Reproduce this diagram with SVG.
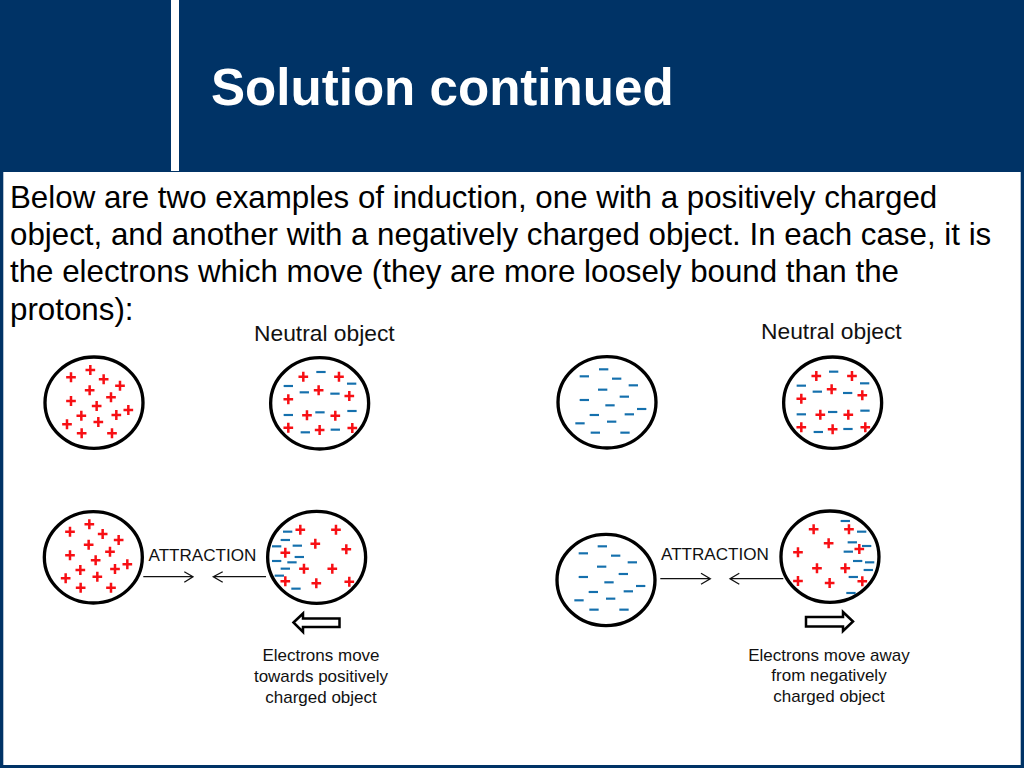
<svg xmlns="http://www.w3.org/2000/svg" width="1024" height="768" viewBox="0 0 1024 768">
<style>
text{font-family:"Liberation Sans",Arial,sans-serif;fill:#000}
.title{font-size:51.1px;font-weight:700;fill:#fff}
.body{font-size:31.3px}
.label{font-size:22.8px;fill:#111}
.att{font-size:17.1px;fill:#111}
.small{font-size:17px;text-anchor:middle;fill:#111}
.ball{fill:#fff;stroke:#000;stroke-width:10}
.thin{fill:none;stroke:#111;stroke-width:1.300}
.block{fill:#fff;stroke:#000;stroke-width:2.500}
</style>
<defs>
<path id="p" d="M-14.500 0H14.500M0-15V15" fill="none" stroke="#f70f14" stroke-width="7.500"/>
<path id="m" d="M-14 0H14" fill="none" stroke="#1570ad" stroke-width="6.500"/>
</defs>
<rect width="1024" height="768" fill="#003366"/>
<rect x="3.300" y="172" width="1017.400" height="593" fill="#fff"/>
<rect x="171" y="0" width="8" height="171" fill="#fff"/>
<text class="title" x="211" y="105">Solution continued</text>
<g id="body">
<text class="body" x="10" y="208">Below are two examples of induction, one with a positively charged</text>
<text class="body" x="10" y="245">object, and another with a negatively charged object. In each case, it is</text>
<text class="body" x="10" y="282">the electrons which move (they are more loosely bound than the</text>
<text class="body" x="10" y="320">protons):</text>
</g>
<text class="label" x="254" y="341">Neutral object</text>
<text class="label" x="761" y="339">Neutral object</text>

<g id="connectors">
<path class="thin" d="M143.300 576.700H193M184.300 571.700L193 576.700L184.300 582.300"/>
<path class="thin" d="M266 576.700H213.300M222.700 571.700L213.300 576.700L222.700 582.300"/>
<path class="thin" d="M660.300 578.700H710.300M701 573.300L710.300 578.700L701 584.300"/>
<path class="thin" d="M783.300 578.700H730M739.300 573.300L730 578.700L739.300 584.300"/>
</g>

<g id="obj-a1" transform="translate(30 350) scale(.3333)">
<ellipse class="ball" cx="192" cy="158" rx="147" ry="137"/>
<use href="#p" x="123" y="82"/><use href="#p" x="181" y="60"/><use href="#p" x="221" y="88"/><use href="#p" x="270" y="107"/><use href="#p" x="179" y="121"/><use href="#p" x="243" y="142"/><use href="#p" x="123" y="153"/><use href="#p" x="200" y="168"/><use href="#p" x="295" y="180"/><use href="#p" x="259" y="195"/><use href="#p" x="154" y="197"/><use href="#p" x="111" y="223"/><use href="#p" x="205" y="216"/><use href="#p" x="155" y="250"/><use href="#p" x="246" y="250"/>
</g>
<g id="obj-a2" transform="translate(30 350) scale(.3333)">
<ellipse class="ball" cx="869" cy="160" rx="147" ry="137"/>
<use href="#p" x="820" y="80"/><use href="#p" x="927" y="80"/><use href="#p" x="866" y="121"/><use href="#p" x="958" y="138"/><use href="#p" x="775" y="148"/><use href="#p" x="831" y="196"/><use href="#p" x="916" y="197"/><use href="#p" x="775" y="233"/><use href="#p" x="869" y="240"/><use href="#p" x="967" y="234"/>
<use href="#m" x="873" y="66"/><use href="#m" x="965" y="101"/><use href="#m" x="775" y="108"/><use href="#m" x="823" y="127"/><use href="#m" x="915" y="131"/><use href="#m" x="775" y="195"/><use href="#m" x="870" y="187"/><use href="#m" x="966" y="183"/><use href="#m" x="826" y="247"/><use href="#m" x="916" y="239"/>
</g>
<g id="obj-b1" transform="translate(550 350) scale(.3333)">
<ellipse class="ball" cx="171" cy="157" rx="147" ry="137"/>
<use href="#m" x="103" y="79"/><use href="#m" x="161" y="58"/><use href="#m" x="200" y="86"/><use href="#m" x="250" y="106"/><use href="#m" x="158" y="119"/><use href="#m" x="223" y="140"/><use href="#m" x="103" y="150"/><use href="#m" x="180" y="166"/><use href="#m" x="275" y="177"/><use href="#m" x="238" y="193"/><use href="#m" x="133" y="195"/><use href="#m" x="90" y="220"/><use href="#m" x="185" y="215"/><use href="#m" x="136" y="248"/><use href="#m" x="225" y="248"/>
</g>
<g id="obj-b2" transform="translate(550 350) scale(.3333)">
<ellipse class="ball" cx="848" cy="158" rx="147" ry="137"/>
<use href="#p" x="799" y="78"/><use href="#p" x="906" y="78"/><use href="#p" x="845" y="118"/><use href="#p" x="937" y="136"/><use href="#p" x="754" y="146"/><use href="#p" x="811" y="194"/><use href="#p" x="895" y="194"/><use href="#p" x="754" y="232"/><use href="#p" x="848" y="238"/><use href="#p" x="946" y="232"/>
<use href="#m" x="851" y="65"/><use href="#m" x="944" y="100"/><use href="#m" x="754" y="107"/><use href="#m" x="802" y="125"/><use href="#m" x="893" y="129"/><use href="#m" x="754" y="193"/><use href="#m" x="848" y="186"/><use href="#m" x="945" y="182"/><use href="#m" x="805" y="246"/><use href="#m" x="894" y="237"/>
</g>
<g id="obj-c1" transform="translate(30 505) scale(.3333)">
<ellipse class="ball" cx="190" cy="157" rx="147" ry="137"/>
<use href="#p" x="120" y="80"/><use href="#p" x="178" y="58"/><use href="#p" x="218" y="87"/><use href="#p" x="266" y="105"/><use href="#p" x="176" y="119"/><use href="#p" x="240" y="140"/><use href="#p" x="120" y="151"/><use href="#p" x="197" y="166"/><use href="#p" x="292" y="178"/><use href="#p" x="255" y="192"/><use href="#p" x="151" y="195"/><use href="#p" x="107" y="220"/><use href="#p" x="202" y="215"/><use href="#p" x="152" y="248"/><use href="#p" x="243" y="248"/>
</g>
<g id="obj-c2" transform="translate(30 505) scale(.3333)">
<ellipse class="ball" cx="860" cy="157" rx="147" ry="138"/>
<use href="#m" x="773" y="80"/><use href="#m" x="766" y="105"/><use href="#m" x="740" y="124"/><use href="#m" x="802" y="122"/><use href="#m" x="740" y="168"/><use href="#m" x="808" y="156"/><use href="#m" x="786" y="172"/><use href="#m" x="766" y="191"/><use href="#m" x="748" y="212"/><use href="#m" x="798" y="251"/>
<use href="#p" x="811" y="74"/><use href="#p" x="918" y="74"/><use href="#p" x="856" y="116"/><use href="#p" x="949" y="133"/><use href="#p" x="766" y="143"/><use href="#p" x="822" y="191"/><use href="#p" x="907" y="191"/><use href="#p" x="766" y="229"/><use href="#p" x="859" y="235"/><use href="#p" x="958" y="230"/>
</g>
<g id="obj-d1" transform="translate(550 505) scale(.3333)">
<ellipse class="ball" cx="168" cy="225" rx="147" ry="137"/>
<use href="#m" x="100" y="145"/><use href="#m" x="157" y="124"/><use href="#m" x="197" y="152"/><use href="#m" x="247" y="172"/><use href="#m" x="155" y="185"/><use href="#m" x="220" y="207"/><use href="#m" x="100" y="216"/><use href="#m" x="177" y="232"/><use href="#m" x="272" y="243"/><use href="#m" x="235" y="259"/><use href="#m" x="130" y="261"/><use href="#m" x="87" y="286"/><use href="#m" x="182" y="281"/><use href="#m" x="132" y="314"/><use href="#m" x="222" y="314"/>
</g>
<g id="obj-d2" transform="translate(550 505) scale(.3333)">
<ellipse class="ball" cx="840" cy="155" rx="147" ry="137"/>
<use href="#m" x="886" y="48"/><use href="#m" x="935" y="80"/><use href="#m" x="907" y="112"/><use href="#m" x="950" y="123"/><use href="#m" x="895" y="140"/><use href="#m" x="923" y="168"/><use href="#m" x="959" y="172"/><use href="#m" x="955" y="195"/><use href="#m" x="910" y="216"/><use href="#m" x="903" y="264"/>
<use href="#p" x="791" y="73"/><use href="#p" x="897" y="73"/><use href="#p" x="836" y="115"/><use href="#p" x="928" y="132"/><use href="#p" x="744" y="142"/><use href="#p" x="801" y="190"/><use href="#p" x="886" y="190"/><use href="#p" x="744" y="228"/><use href="#p" x="839" y="234"/><use href="#p" x="937" y="229"/>
</g>

<text class="att" x="148.500" y="561">ATTRACTION</text>
<text class="att" x="661" y="560">ATTRACTION</text>
<polygon id="arrow-left" class="block" points="293.500,622.500 303,613.500 303,618.500 339.500,618.500 339.500,627 303,627 303,632"/>
<polygon id="arrow-right" class="block" points="853,621.500 843,612 843,617 806,617 806,626.500 843,626.500 843,631"/>

<g id="caption-left">
<text class="small" x="321" y="661">Electrons move</text>
<text class="small" x="321" y="682">towards positively</text>
<text class="small" x="321" y="703">charged object</text>
</g>
<g id="caption-right">
<text class="small" x="829" y="661">Electrons move away</text>
<text class="small" x="829" y="681">from negatively</text>
<text class="small" x="829" y="702">charged object</text>
</g>
</svg>
